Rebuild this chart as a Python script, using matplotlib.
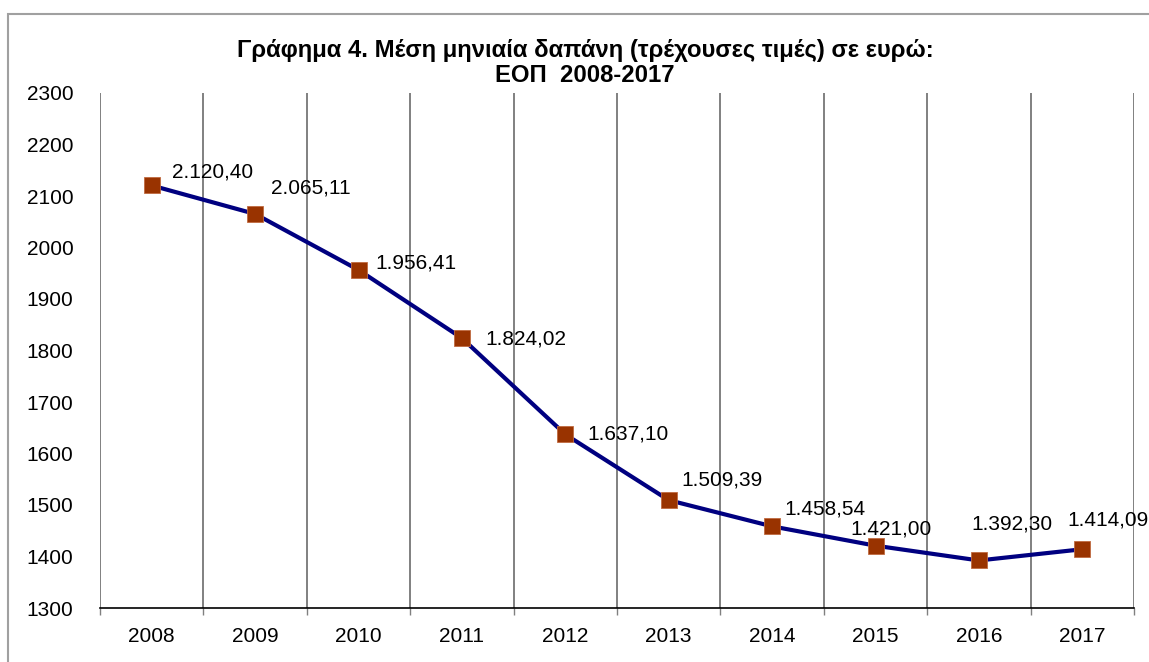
import matplotlib
matplotlib.use('Agg')
import numpy as np
import matplotlib.pyplot as plt
from matplotlib.patches import Rectangle

# Data
years = ['2008', '2009', '2010', '2011', '2012', '2013', '2014', '2015', '2016', '2017']
spending = [2120.40, 2065.11, 1956.41, 1824.02, 1637.10, 1509.39, 1458.54, 1421.00, 1392.30, 1414.09]
title_text = 'Γράφημα 4. Μέση μηνιαία δαπάνη (τρέχουσες τιμές) σε ευρώ:\nΕΟΠ  2008-2017'

# label offsets in pixels (left edge of text, vertical centre)
label_offsets = [(20, 13), (16, 26), (17, 7), (23, -1), (22, 0),
                 (13, 20), (12, 17), (-25, 17), (-8, 36), (-15, 29)]


def greek_fmt(v):
    s = f'{v:,.2f}'
    return s.replace(',', 'X').replace('.', ',').replace('X', '.')


plt.rcParams['font.family'] = ['Liberation Sans', 'DejaVu Sans']

fig = plt.figure(figsize=(11.49, 6.62), dpi=100)
ax = fig.add_axes([100 / 1149, 1 - 608 / 662, 1034 / 1149, 515 / 662])

x = np.arange(len(years))
ax.plot(x, spending, color='#000080', linewidth=3, zorder=3,
        marker='s', markersize=11, markerfacecolor='#993300',
        markeredgecolor='#c06a40', markeredgewidth=0.6)

for xi, v, (dx, dy) in zip(x, spending, label_offsets):
    ax.annotate(greek_fmt(v), (xi, v), xytext=(dx, dy),
                textcoords='offset pixels', ha='left', va='center',
                fontsize=15, color='black', annotation_clip=False, zorder=4)

ax.set_xlim(-0.5, len(years) - 0.5)
ax.set_ylim(1300, 2300)
ax.set_yticks(np.arange(1300, 2301, 100))
ax.tick_params(axis='y', length=0, pad=19, labelsize=15)

ax.set_xticks(np.arange(-0.5, len(years)), labels=[''] * (len(years) + 1))
ax.set_xticks(x, labels=years, minor=True)
ax.tick_params(axis='x', which='major', length=5, width=1, color='#808080')
ax.tick_params(axis='x', which='minor', length=0, pad=14, labelsize=15)
ax.grid(axis='x', which='major', color='#808080', linewidth=1.4)
ax.set_axisbelow(True)

for side in ['left', 'top', 'right']:
    ax.spines[side].set_visible(False)
ax.spines['bottom'].set_color('black')
ax.spines['bottom'].set_linewidth(1.2)

fig.text(585 / 1149, 1 - 63 / 662, title_text, ha='center', va='center',
         fontsize=17.2, fontweight='bold', linespacing=1.1)

fig.patches.append(Rectangle((8 / 1149, -0.1), 1.2, 1.1 - 14 / 662,
                             transform=fig.transFigure, fill=False,
                             edgecolor='#a0a0a0', linewidth=1.5))

fig.savefig('out.png', dpi=100)
